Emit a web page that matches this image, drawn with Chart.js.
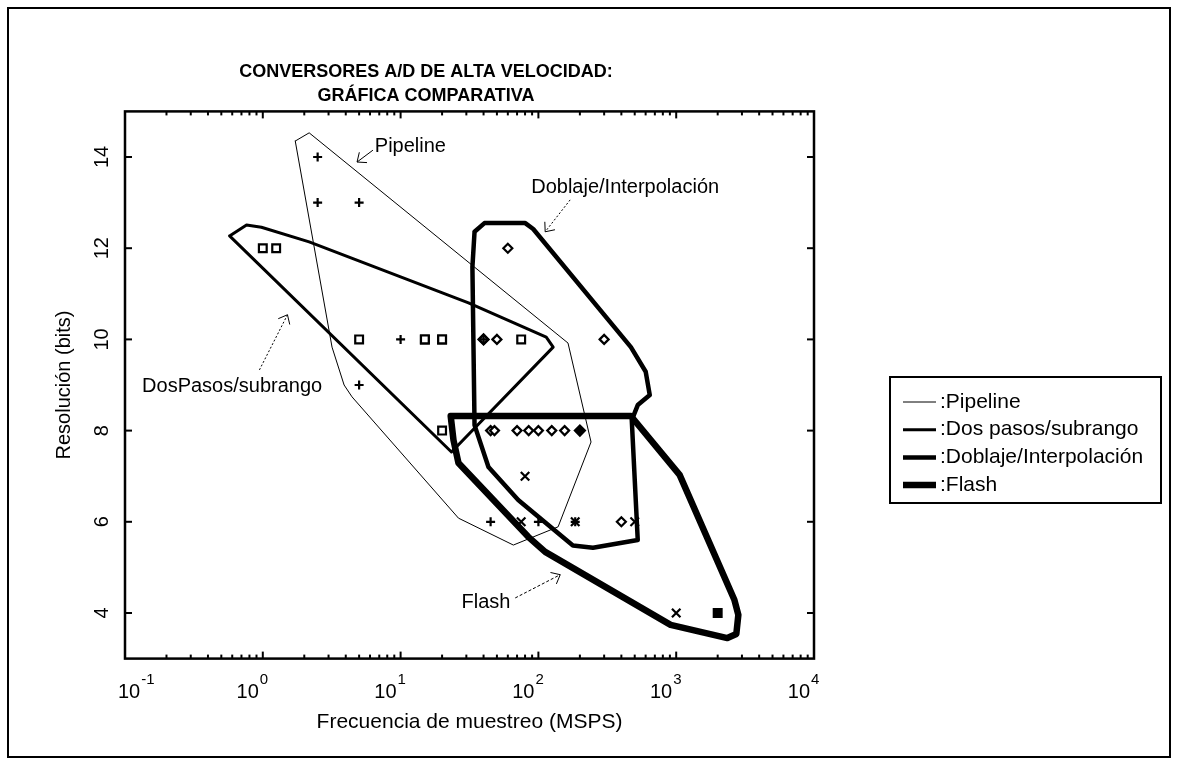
<!DOCTYPE html>
<html>
<head>
<meta charset="utf-8">
<script src="https://cdn.jsdelivr.net/npm/chart.js@4.4.0/dist/chart.umd.min.js"></script>
<style>
  html, body { margin: 0; padding: 0; background: #fff; }
</style>
</head>
<body>
<canvas id="myChart" width="1178" height="765"></canvas>
<script>
// outlines of each family (frecuencia MSPS, resolucion bits)
const pipeline_x = [1.72, 2.17, 164, 241, 139, 65.8, 26.3, 4.44, 3.89, 3.18];
const pipeline_y = [14.35, 14.53, 9.92, 7.75, 5.89, 5.49, 6.08, 8.74, 9.0, 9.83];

const dos_pasos_x = [0.574, 0.762, 0.977, 2.17, 31.1, 114, 128, 23.4];
const dos_pasos_y = [12.27, 12.51, 12.46, 12.14, 10.80, 10.05, 9.83, 7.53];

const doblaje_x = [34.4, 40.6, 80.3, 91.7, 469, 601, 643, 526, 476, 526, 249, 178, 71.4, 43.4, 34.4, 33.2];
const doblaje_y = [12.36, 12.55, 12.55, 12.42, 9.83, 9.29, 8.78, 8.56, 8.23, 5.60, 5.43, 5.48, 6.48, 7.20, 8.12, 11.59];

const flash_x = [23.1, 469, 1059, 2642, 2825, 2731, 2351, 911, 112, 84.4, 26.3, 24.2];
const flash_y = [8.32, 8.32, 7.03, 4.29, 3.96, 3.54, 3.45, 3.74, 5.34, 5.67, 7.29, 7.79];

// individual converters
const pipeline_pts_x = [2.5, 2.5, 5, 5, 10, 40, 45, 100, 185];
const pipeline_pts_y = [14, 13, 13, 9, 10, 10, 6, 6, 6];
const dos_pasos_pts_x = [1, 1.25, 5, 15, 20, 75, 20];
const dos_pasos_pts_y = [12, 12, 10, 10, 10, 10, 8];
const doblaje_pts_x = [60, 300, 40, 50, 45, 48, 70, 85, 100, 125, 155, 400];
const doblaje_pts_y = [12, 10, 10, 10, 8, 8, 8, 8, 8, 8, 8, 6];
const flash_pts_x = [80, 1000, 75, 185, 500];
const flash_pts_y = [7, 4, 6, 6, 6];
const filled_sq_x = [15, 20, 2000];
const filled_sq_y = [10, 10, 4];
const filled_dia_x = [40, 200];
const filled_dia_y = [10, 8];

const region_names = ['Pipeline', 'Dos pasos/subrango', 'Doblaje/Interpolación', 'Flash'];
const title_lines = ['CONVERSORES A/D DE ALTA VELOCIDAD:', 'GRÁFICA COMPARATIVA'];
const x_tick_exps = [-1, 0, 1, 2, 3, 4];
const y_ticks = [4, 6, 8, 10, 12, 14];

const FONT = "'Liberation Sans', Arial, sans-serif";

const pts = (xs, ys) => xs.map((x, i) => ({x: x, y: ys[i]}));
const ring = (xs, ys) => { const p = pts(xs, ys); p.push(p[0]); return p; };

function region(label, xs, ys, w) {
    return {
        label: label, data: ring(xs, ys), showLine: true, borderColor: '#000',
        borderWidth: w, pointRadius: 0, tension: 0, fill: false, order: 2,
        borderJoinStyle: 'round', borderCapStyle: 'round'
    };
}
function marks(xs, ys, style, r, filled) {
    return {
        data: pts(xs, ys), showLine: false, pointStyle: style, pointRadius: r,
        borderColor: '#000', backgroundColor: filled ? '#000' : '#fff',
        pointBorderWidth: 2.2, order: 0
    };
}

// labels with arrows, placed in data units
const notes = [
    {text: 'Pipeline', at: [6.5, 14.22], tail: [6.3, 14.15], head: [4.83, 13.89], dash: []},
    {text: 'Doblaje/Interpolación', at: [88.7, 13.34], tail: [170, 13.06], head: [112, 12.36], dash: [2, 2]},
    {text: 'DosPasos/subrango', at: [0.133, 8.96], tail: [0.945, 9.33], head: [1.51, 10.54], dash: [2, 2]},
    {text: 'Flash', at: [27.7, 4.24], tail: [67.9, 4.33], head: [144, 4.84], dash: [3, 2]}
];

const decor = {
    id: 'decor',
    beforeDraw(chart) {
        const ctx = chart.ctx;
        ctx.save();
        ctx.fillStyle = '#fff';
        ctx.fillRect(0, 0, chart.width, chart.height);
        ctx.strokeStyle = '#000';
        ctx.lineWidth = 2;
        ctx.strokeRect(8, 8, chart.width - 16, chart.height - 16);
        ctx.restore();
    },
    afterDraw(chart) {
        const ctx = chart.ctx;
        const {left, right, top, bottom} = chart.chartArea;
        const xs = chart.scales.x, ys = chart.scales.y;
        ctx.save();
        ctx.strokeStyle = '#000';
        ctx.fillStyle = '#000';
        const seg = (x1, y1, x2, y2) => { ctx.beginPath(); ctx.moveTo(x1, y1); ctx.lineTo(x2, y2); ctx.stroke(); };

        // title
        ctx.font = 'bold 18px ' + FONT;
        ctx.textAlign = 'center';
        ctx.textBaseline = 'middle';
        title_lines.forEach((t, i) => ctx.fillText(t, 426, 72 + i * 24));

        // ticks pointing inwards
        ctx.lineWidth = 2;
        ys.ticks.forEach(t => {
            const py = ys.getPixelForValue(t.value);
            seg(left, py, left + 7, py);
            seg(right, py, right - 7, py);
        });
        xs.ticks.forEach(t => {
            const px = xs.getPixelForValue(t.value);
            seg(px, bottom, px, bottom - 7);
            seg(px, top, px, top + 7);
        });
        for (let e = -1; e < 4; e++) {
            for (let m = 2; m < 10; m++) {
                const px = xs.getPixelForValue(m * Math.pow(10, e));
                seg(px, bottom, px, bottom - 4);
                seg(px, top, px, top + 4);
            }
        }
        ctx.lineWidth = 2.5;
        ctx.strokeRect(left, top, right - left, bottom - top);

        // tick labels
        ctx.font = '20px ' + FONT;
        ctx.textBaseline = 'middle';
        ctx.textAlign = 'center';
        ys.ticks.forEach(t => {
            const py = ys.getPixelForValue(t.value);
            ctx.save();
            ctx.translate(102, py);
            ctx.rotate(-Math.PI / 2);
            ctx.fillText(String(t.value), 0, 0);
            ctx.restore();
        });
        ctx.textBaseline = 'alphabetic';
        xs.ticks.forEach(t => {
            const px = xs.getPixelForValue(t.value);
            const exp = String(Math.round(Math.log10(t.value)));
            ctx.font = '20px ' + FONT;
            const w10 = ctx.measureText('10').width;
            let x0 = px - 4 - w10;
            if (x0 < left - 8) x0 = left - 7;
            ctx.textAlign = 'left';
            ctx.fillText('10', x0, 698);
            ctx.font = '15px ' + FONT;
            ctx.fillText(exp, x0 + w10 + 1, 684);
        });

        // annotations
        ctx.font = '20px ' + FONT;
        ctx.textAlign = 'left';
        ctx.textBaseline = 'middle';
        ctx.lineWidth = 1;
        notes.forEach(n => {
            ctx.fillText(n.text, xs.getPixelForValue(n.at[0]), ys.getPixelForValue(n.at[1]));
            const tx = xs.getPixelForValue(n.tail[0]), ty = ys.getPixelForValue(n.tail[1]);
            const hx = xs.getPixelForValue(n.head[0]), hy = ys.getPixelForValue(n.head[1]);
            ctx.setLineDash(n.dash);
            seg(tx, ty, hx, hy);
            ctx.setLineDash([]);
            const a = Math.atan2(ty - hy, tx - hx);
            [-0.7, 0.7].forEach(d => seg(hx, hy, hx + 10 * Math.cos(a + d), hy + 10 * Math.sin(a + d)));
        });

        // legend box
        const lx = 890, ly = 377, lw = 271, lh = 126;
        ctx.lineWidth = 2;
        ctx.strokeRect(lx, ly, lw, lh);
        ctx.font = '21px ' + FONT;
        region_names.forEach((name, i) => {
            const ds = chart.data.datasets[i];
            const ry = 402 + i * 27.7;
            ctx.lineWidth = ds.borderWidth;
            ctx.lineCap = 'butt';
            seg(903, ry, 936, ry);
            ctx.fillText(':' + name, 940, ry);
        });
        ctx.restore();
    }
};

new Chart(document.getElementById('myChart'), {
    type: 'scatter',
    data: {
        datasets: [
            region(region_names[0], pipeline_x, pipeline_y, 1),
            region(region_names[1], dos_pasos_x, dos_pasos_y, 3),
            region(region_names[2], doblaje_x, doblaje_y, 4.5),
            region(region_names[3], flash_x, flash_y, 6.5),
            marks(pipeline_pts_x, pipeline_pts_y, 'cross', 4.5, false),
            marks(dos_pasos_pts_x, dos_pasos_pts_y, 'rect', 5.5, false),
            marks(doblaje_pts_x, doblaje_pts_y, 'rectRot', 4.5, false),
            marks(flash_pts_x, flash_pts_y, 'crossRot', 6, false),
            marks(filled_sq_x, filled_sq_y, 'rect', 5.5, true),
            marks(filled_dia_x, filled_dia_y, 'rectRot', 5, true)
        ]
    },
    options: {
        responsive: false,
        animation: false,
        events: [],
        layout: {padding: {top: 111.4, left: 0, right: 364, bottom: 0}},
        plugins: {
            legend: {display: false},
            tooltip: {enabled: false},
            title: {display: false}
        },
        scales: {
            x: {
                type: 'logarithmic',
                min: 0.1, max: 10000,
                grid: {display: false},
                border: {display: false},
                ticks: {display: false},
                afterBuildTicks: s => { s.ticks = x_tick_exps.map(e => ({value: Math.pow(10, e)})); },
                afterFit: s => { s.height = 106.4; },
                title: {display: true, text: 'Frecuencia de muestreo (MSPS)', color: '#000',
                        font: {family: FONT, size: 21, lineHeight: 1.2}, padding: {top: 0, bottom: 30}}
            },
            y: {
                min: 3, max: 15,
                grid: {display: false},
                border: {display: false},
                ticks: {display: false},
                afterBuildTicks: s => { s.ticks = y_ticks.map(v => ({value: v})); },
                afterFit: s => { s.width = 125; },
                title: {display: true, text: 'Resolución (bits)', color: '#000',
                        font: {family: FONT, size: 20, lineHeight: 1.2}, padding: {top: 52, bottom: 0}}
            }
        }
    },
    plugins: [decor]
});
</script>
</body>
</html>
